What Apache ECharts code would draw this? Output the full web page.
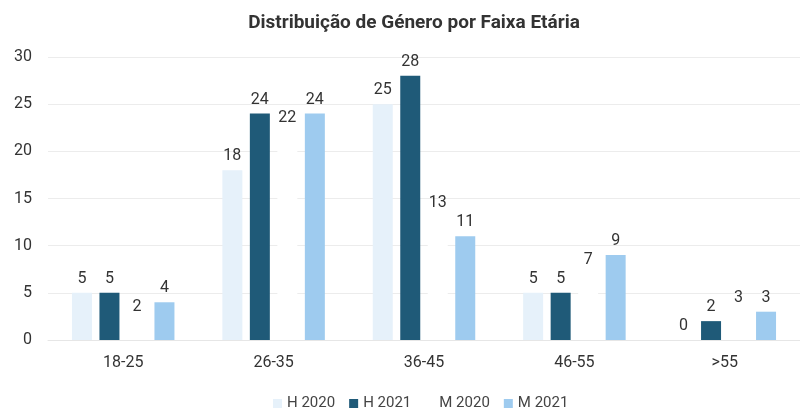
<!DOCTYPE html>
<html>
<head>
<meta charset="utf-8">
<script src="https://cdn.jsdelivr.net/npm/echarts@6/dist/echarts.min.js"></script>
<style>html,body{margin:0;padding:0;background:#fff}#c{width:800px;height:410px}</style>
</head>
<body>
<div id="c"></div>
<script>
const categories = ['18-25', '26-35', '36-45', '46-55', '>55'];
const h2020 = [5, 18, 25, 5, 0];
const h2021 = [5, 24, 28, 5, 2];
const m2020 = [2, 22, 13, 7, 3];
const m2021 = [4, 24, 11, 9, 3];
const seriesNames = ['H 2020', 'H 2021', 'M 2020', 'M 2021'];
const yTicks = { min: 0, max: 30, interval: 5 };

const colors = ['#E6F1FA', '#1F5A78', '#FFFFFF', '#9ECBEF'];
const FONT = 'Roboto';
const chart = echarts.init(document.getElementById('c'));
const mk = (name, data, color) => ({
  name, type: 'bar', data, barWidth: 20, barGap: '37.5%',
  itemStyle: { color },
  label: { show: true, position: 'top', distance: 6, color: '#333', fontSize: 16, fontFamily: FONT }
});
chart.setOption({
  animation: false,
  backgroundColor: '#fff',
  title: {
    text: 'Distribuição de Género por Faixa Etária', left: 409, top: 9, textAlign: 'center',
    textStyle: { fontFamily: FONT, fontWeight: 'bold', fontSize: 19, color: '#333' }
  },
  legend: {
    data: seriesNames, top: 391, left: 268, itemWidth: 9, itemHeight: 9, itemGap: 14,
    icon: 'rect',
    textStyle: { fontFamily: FONT, fontSize: 15, color: '#444' }
  },
  grid: { left: 48, width: 755, top: 57, bottom: 70 },
  xAxis: {
    type: 'category', data: categories,
    axisLine: { show: true, lineStyle: { color: '#e6e6e6' } },
    axisTick: { show: false },
    axisLabel: { fontFamily: FONT, fontSize: 16, color: '#333', margin: 15 }
  },
  yAxis: {
    type: 'value', min: yTicks.min, max: yTicks.max, interval: yTicks.interval,
    axisLine: { show: false }, axisTick: { show: false },
    splitLine: { lineStyle: { color: '#ececec' } },
    axisLabel: { fontFamily: FONT, fontSize: 16, color: '#333', margin: 16 }
  },
  series: [
    mk(seriesNames[0], h2020, colors[0]),
    mk(seriesNames[1], h2021, colors[1]),
    mk(seriesNames[2], m2020, colors[2]),
    mk(seriesNames[3], m2021, colors[3])
  ]
});
</script>
</body>
</html>
